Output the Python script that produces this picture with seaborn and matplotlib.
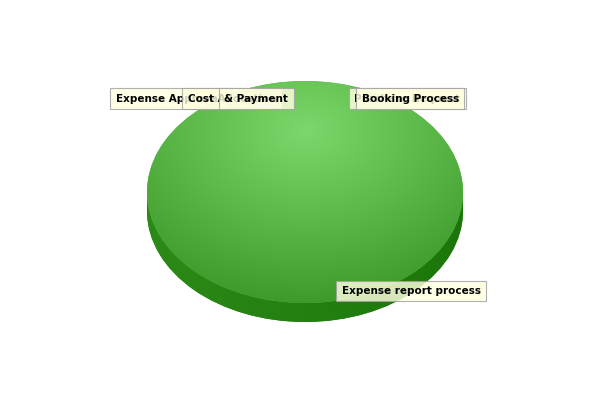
import numpy as np
import matplotlib
matplotlib.use("Agg")
import matplotlib.pyplot as plt
import seaborn as sns
from matplotlib.patches import Rectangle, Circle

sns.set_theme(style="white")
plt.rcParams['font.family'] = ['DejaVu Sans']

# data (clockwise from 12 o'clock)
categories = ["Booking Process", "Purchase Request", "Expense report process",
              "Expense Approval", "Cost Allocation", "& Payment"]
values = [0.5, 0.5, 400, 0.5, 0.5, 0.5]

# label box placement (pixels: left, center-y), drawing order
label_pos = {
    "Expense Approval": (110, 98.5),
    "Cost Allocation": (182, 98.5),
    "& Payment": (219, 98.5),
    "Purchase Request": (349, 98.5),
    "Booking Process": (356, 98.5),
    "Expense report process": (336, 291),
}
label_order = ["Expense Approval", "Cost Allocation", "& Payment",
               "Purchase Request", "Booking Process", "Expense report process"]

W, H = 600, 400
cx, cy, rx, ry, depth = 305, 192, 158, 111, 19

fig = plt.figure(figsize=(6, 4), dpi=100)
fig.patch.set_facecolor("white")
ax = fig.add_axes([0, 0, 1, 1])
ax.set_axis_off()
d = depth / ry

side_col = "#238510"
# side (extrusion)
side_wedges, _ = ax.pie(values, startangle=90, counterclock=False, radius=1,
                        center=(0, -d), colors=[side_col] * len(values),
                        wedgeprops=dict(linewidth=0), frame=True)
ax.add_patch(Rectangle((-1, -d), 2, d, facecolor=side_col, linewidth=0, zorder=1))
gx = np.linspace(-1, 1, 300)
gy = np.linspace(-1 - d, 0, 60)
GX, GY = np.meshgrid(gx, gy)
t = np.clip(0.5 + 0.5 * GX, 0, 1)
c0 = np.array([44, 138, 24]) / 255
c1 = np.array([28, 118, 10]) / 255
img = c0[None, None, :] * (1 - t[..., None]) + c1[None, None, :] * t[..., None]
side_clip = Circle((0, -d), 1, transform=ax.transData)
im = ax.imshow(img, extent=(-1, 1, -1 - d, 0), origin="lower",
               aspect="auto", zorder=1.5, interpolation="bilinear")
im.set_clip_path(side_clip)

# top face
top_wedges, _ = ax.pie(values, startangle=90, counterclock=False, radius=1,
                       center=(0, 0), colors=["#5cbf48"] * len(values),
                       wedgeprops=dict(linewidth=0), frame=True)
for w_ in top_wedges:
    w_.set_zorder(2)
gx = np.linspace(-1, 1, 400)
gy = np.linspace(-1, 1, 300)
GX, GY = np.meshgrid(gx, gy)
r = np.sqrt((GX - 0.0) ** 2 + ((GY - 0.55) * 0.95) ** 2) / 1.6
r = np.clip(r, 0, 1)
cA = np.array([124, 216, 106]) / 255
cB = np.array([56, 150, 38]) / 255
img2 = cA[None, None, :] * (1 - r[..., None]) + cB[None, None, :] * r[..., None]
top_clip = Circle((0, 0), 1, transform=ax.transData)
im2 = ax.imshow(img2, extent=(-1, 1, -1, 1), origin="lower",
                aspect="auto", zorder=2.5, interpolation="bilinear")
im2.set_clip_path(top_clip)

ax.set_xlim(-cx / rx, (W - cx) / rx)
ax.set_ylim(-(H - cy) / ry, cy / ry)
ax.set_aspect("auto")

# labels
for i, name in enumerate(label_order):
    px, py = label_pos[name]
    fig.text((px + 5.5) / W, 1 - py / H, name, ha="left", va="center",
             fontsize=7.5, fontweight="bold", color="black", zorder=10 + i,
             bbox=dict(boxstyle="square,pad=0.52", facecolor="#ffffe0",
                       edgecolor="#a0a0a0", linewidth=0.8, alpha=0.82))

fig.savefig("out.png", dpi=100)
